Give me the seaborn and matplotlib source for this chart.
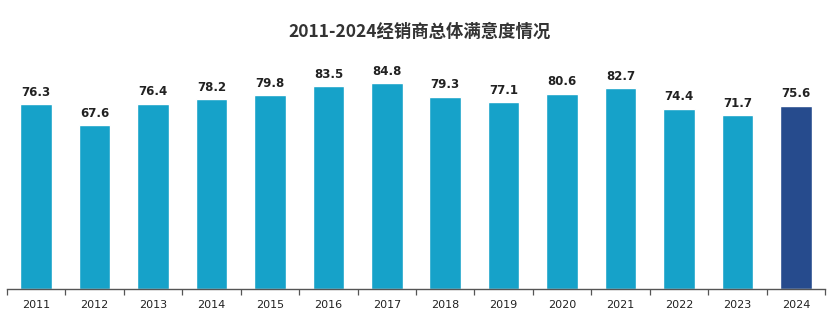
import matplotlib
matplotlib.use("Agg")
import matplotlib.pyplot as plt
import seaborn as sns
import pandas as pd
import numpy as np

years = ["2011","2012","2013","2014","2015","2016","2017","2018","2019","2020","2021","2022","2023","2024"]
values = [76.3, 67.6, 76.4, 78.2, 79.8, 83.5, 84.8, 79.3, 77.1, 80.6, 82.7, 74.4, 71.7, 75.6]
groups = ["hist"] * 13 + ["current"]
title = "2011-2024经销商总体满意度情况"

sns.set_theme(style="white")
plt.rcParams['font.family'] = ['Noto Sans CJK SC', 'DejaVu Sans']

df = pd.DataFrame({"year": years, "value": values, "group": groups})

fig = plt.figure(figsize=(8.4, 3.32), dpi=100)
ax = fig.add_axes([0.0083, 0.1295, 0.974, 0.7305])
sns.barplot(data=df, x="year", y="value", hue="group",
            palette={"hist": "#16A2C9", "current": "#264B8D"},
            dodge=False, width=0.54, legend=False, ax=ax, saturation=1)

for i, v in enumerate(values):
    ax.text(i, v + 2.2, f"{v:.1f}", ha="center", va="bottom",
            fontsize=8.5, fontweight="bold", color="#222222",
            family=['DejaVu Sans'])

ax.set_xlim(-0.5, len(years) - 0.5)
ax.set_ylim(0, 100)
ax.set_xlabel("")
ax.set_ylabel("")
ax.set_yticks([])
for s in ["top", "right", "left"]:
    ax.spines[s].set_visible(False)
ax.spines["bottom"].set_color("#555555")
ax.spines["bottom"].set_linewidth(1.0)
ax.tick_params(axis="x", which="major", bottom=False, length=0, pad=8, labelsize=8, labelcolor="#222222")
ax.set_xticks(np.arange(-0.5, len(years), 1.0), minor=True)
ax.tick_params(axis="x", which="minor", bottom=True, length=4, width=0.9, color="#555555", direction="out")
for lab in ax.get_xticklabels():
    lab.set_family(['DejaVu Sans'])

fig.text(0.5, 0.905, title, ha="center", va="center", fontsize=12.5,
         fontweight="bold", color="#333333")

fig.savefig("out.png", dpi=100)
